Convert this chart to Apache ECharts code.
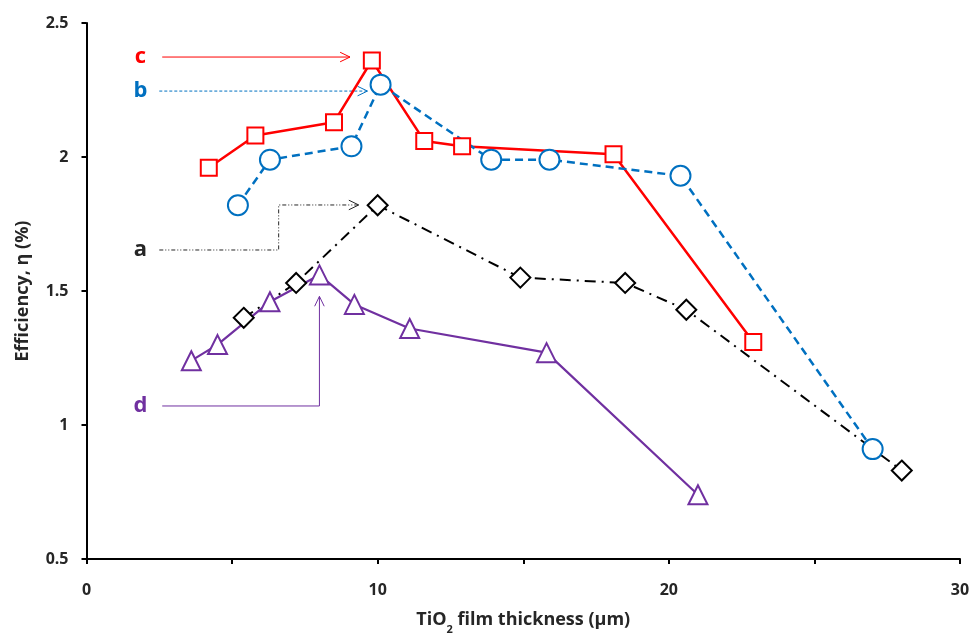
<!DOCTYPE html>
<html>
<head>
<meta charset="utf-8">
<title>TiO2 efficiency</title>
<style>
  html, body { margin: 0; padding: 0; background: #fff; }
  #chart { width: 972px; height: 637px; }
</style>
</head>
<body>
<div id="chart"></div>
<script src="https://cdn.jsdelivr.net/npm/echarts@6/dist/echarts.min.js"></script>
<script>
// film thickness (um) / efficiency (%) pairs
var seriesA = [[5.4, 1.40], [7.2, 1.53], [10.0, 1.82], [14.9, 1.55], [18.5, 1.53], [20.6, 1.43], [28.0, 0.83]];
var seriesB = [[5.2, 1.82], [6.3, 1.99], [9.1, 2.04], [10.1, 2.27], [13.9, 1.99], [15.9, 1.99], [20.4, 1.93], [27.0, 0.91]];
var seriesC = [[4.2, 1.96], [5.8, 2.08], [8.5, 2.13], [9.8, 2.36], [11.6, 2.06], [12.9, 2.04], [18.1, 2.01], [22.9, 1.31]];
var seriesD = [[3.6, 1.24], [4.5, 1.30], [6.3, 1.46], [8.0, 1.56], [9.2, 1.45], [11.1, 1.36], [15.8, 1.27], [21.0, 0.74]];
var xTickLabels = ['0', '10', '20', '30'];

// annotation labels and their leader lines (data coordinates)
var labels = [
  { name: 'c', color: '#ff0000', at: [1.85, 2.373], path: [[2.6, 2.373], [9.05, 2.373]], dash: null },
  { name: 'b', color: '#0070c0', at: [1.85, 2.246], path: [[2.5, 2.246], [9.65, 2.246]], dash: [3, 2] },
  { name: 'a', color: '#262626', at: [1.85, 1.653], path: [[2.5, 1.653], [6.6, 1.653], [6.6, 1.821], [9.35, 1.821]], dash: [4, 2, 1, 2, 1, 2] },
  { name: 'd', color: '#7030a0', at: [1.85, 1.071], path: [[2.6, 1.071], [8.0, 1.071], [8.0, 1.48]], dash: null }
];

var font = '"Open Sans", Lato, sans-serif';

function mk(name, data, color, symbol, size, type, width) {
  return {
    name: name,
    type: 'line',
    data: data,
    symbol: symbol,
    symbolSize: size,
    showAllSymbol: true,
    z: 3,
    lineStyle: { color: color, width: width, type: type },
    itemStyle: { color: '#fff', borderColor: color, borderWidth: 2 },
    emphasis: { disabled: true },
    animation: false
  };
}

var chart = echarts.init(document.getElementById('chart'));
var option = {
  animation: false,
  grid: { left: 86.5, right: 12, top: 23, bottom: 78, outerBoundsMode: 'none' },
  xAxis: {
    type: 'value',
    min: 0, max: 30, interval: 5,
    name: '{n|TiO}{s|2}{n| film thickness (μm)}',
    nameLocation: 'middle',
    nameGap: 52,
    nameTextStyle: {
      rich: {
        n: { fontFamily: font, fontWeight: 'bold', fontSize: 18, color: '#262626' },
        s: { fontFamily: font, fontWeight: 'bold', fontSize: 11, color: '#262626', verticalAlign: 'bottom', padding: [0, 0, -6, 0] }
      }
    },
    axisLine: { lineStyle: { color: '#000', width: 2 } },
    axisTick: { length: 5, lineStyle: { color: '#000', width: 2 } },
    splitLine: { show: false },
    axisLabel: {
      margin: 23,
      fontFamily: font, fontWeight: 'bold', fontSize: 16, color: '#262626',
      formatter: function (v) {
        var i = xTickLabels.indexOf(String(v));
        return i >= 0 ? xTickLabels[i] : '';
      }
    }
  },
  yAxis: {
    type: 'value',
    min: 0.5, max: 2.5, interval: 0.5,
    name: 'Efficiency, η (%)',
    nameLocation: 'middle',
    nameGap: 55,
    nameTextStyle: { fontFamily: font, fontWeight: 'bold', fontSize: 18, color: '#262626' },
    axisLine: { show: true, lineStyle: { color: '#000', width: 2 } },
    axisTick: { show: true, length: 5, lineStyle: { color: '#000', width: 2 } },
    splitLine: { show: false },
    axisLabel: { margin: 18, fontFamily: font, fontWeight: 'bold', fontSize: 16, color: '#262626' }
  },
  series: [
    mk('c', seriesC, '#ff0000', 'rect', 16, 'solid', 2.5),
    mk('b', seriesB, '#0070c0', 'circle', 20, [8, 5], 2.5),
    mk('a', seriesA, '#000000', 'diamond', 20, [11, 6, 2, 6], 2),
    mk('d', seriesD, '#7030a0', 'triangle', 19, 'solid', 2.2)
  ]
};
chart.setOption(option);

// leader lines with open arrow heads, placed through the chart's scales
var g = [];
labels.forEach(function (l) {
  var pts = l.path.map(function (p) { return chart.convertToPixel({ gridIndex: 0 }, p); });
  var t = chart.convertToPixel({ gridIndex: 0 }, l.at);
  g.push({
    type: 'text', x: t[0], y: t[1],
    style: { text: l.name, fill: l.color, font: 'bold 22px ' + font, align: 'center', verticalAlign: 'middle' }
  });
  g.push({
    type: 'polyline', shape: { points: pts },
    style: { stroke: l.color, lineWidth: 1, fill: null, lineDash: l.dash }
  });
  var e = pts[pts.length - 1], s = pts[pts.length - 2];
  var ang = Math.atan2(e[1] - s[1], e[0] - s[0]);
  var len = 11, spread = 0.45;
  g.push({
    type: 'polyline',
    shape: { points: [
      [e[0] - len * Math.cos(ang - spread), e[1] - len * Math.sin(ang - spread)],
      e,
      [e[0] - len * Math.cos(ang + spread), e[1] - len * Math.sin(ang + spread)]
    ] },
    style: { stroke: l.color, lineWidth: 1, fill: null }
  });
});
chart.setOption({ graphic: g });
</script>
</body>
</html>
